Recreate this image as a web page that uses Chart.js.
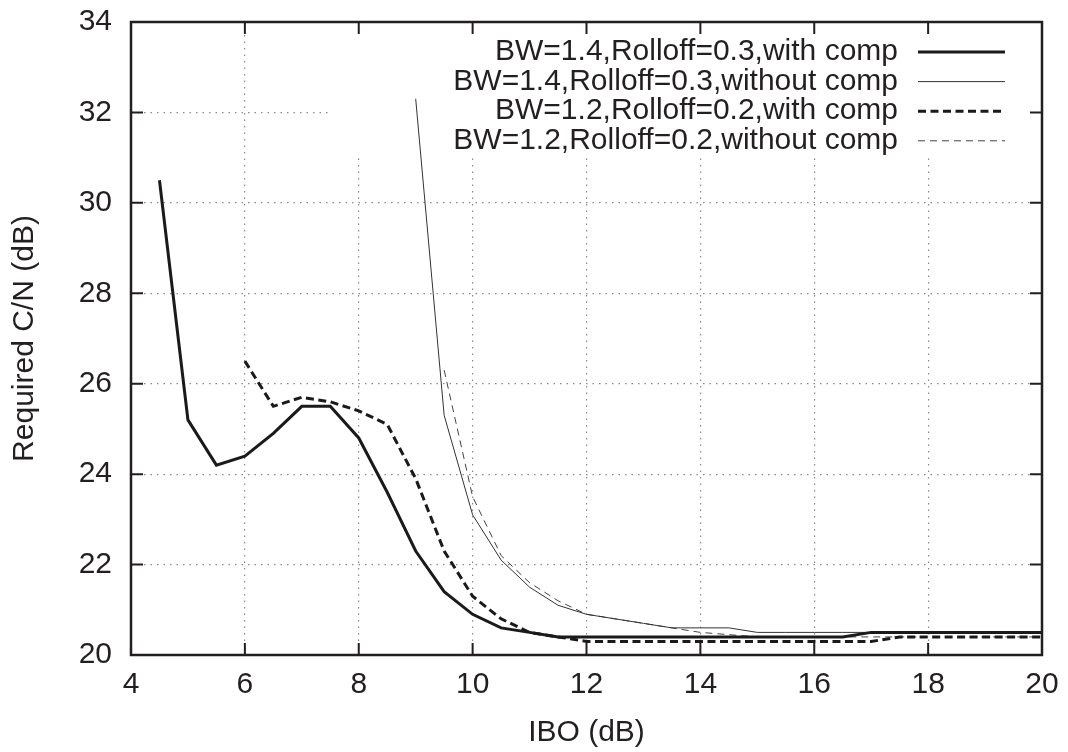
<!DOCTYPE html>
<html>
<head>
<meta charset="utf-8">
<script src="https://cdn.jsdelivr.net/npm/chart.js@4.4.1/dist/chart.umd.min.js"></script>
<style>
  html, body { margin: 0; padding: 0; background: #fff; }
  #wrap { width: 1068px; height: 752px; }
</style>
</head>
<body>
<div id="wrap"><canvas id="cnChart" width="1068" height="752"></canvas></div>
<script>
// IBO values (dB), shared by all series
const ibo = [4.5, 5, 5.5, 6, 6.5, 7, 7.5, 8, 8.5, 9, 9.5, 10, 10.5, 11, 11.5, 12,
  12.5, 13, 13.5, 14, 14.5, 15, 15.5, 16, 16.5, 17, 17.5, 18, 18.5, 19, 19.5, 20];

const bw14WithComp = [30.5, 25.2, 24.2, 24.4, 24.9, 25.5, 25.5, 24.8, 23.6, 22.3, 21.4, 20.9,
  20.6, 20.5, 20.4, 20.4, 20.4, 20.4, 20.4, 20.4, 20.4, 20.4, 20.4, 20.4, 20.4, 20.5,
  20.5, 20.5, 20.5, 20.5, 20.5, 20.5];
const bw14WithoutComp = [null, null, null, null, null, null, null, null, null, 32.3, 25.3, 23.1,
  22.1, 21.5, 21.1, 20.9, 20.8, 20.7, 20.6, 20.6, 20.6, 20.5, 20.5, 20.5, 20.5, 20.5,
  20.5, 20.5, 20.5, 20.5, 20.5, 20.5];
const bw12WithComp = [null, null, null, 26.5, 25.5, 25.7, 25.6, 25.4, 25.1, 23.9, 22.3, 21.3,
  20.8, 20.5, 20.4, 20.3, 20.3, 20.3, 20.3, 20.3, 20.3, 20.3, 20.3, 20.3, 20.3, 20.3,
  20.4, 20.4, 20.4, 20.4, 20.4, 20.4];
const bw12WithoutComp = [null, null, null, null, null, null, null, null, null, null, 26.3, 23.5,
  22.2, 21.6, 21.2, 20.9, 20.8, 20.7, 20.6, 20.5, 20.45, 20.4, 20.4, 20.4, 20.4, 20.4,
  20.4, 20.4, 20.4, 20.4, 20.4, 20.4];

const seriesLabels = [
  'BW=1.4,Rolloff=0.3,with comp',
  'BW=1.4,Rolloff=0.3,without comp',
  'BW=1.2,Rolloff=0.2,with comp',
  'BW=1.2,Rolloff=0.2,without comp'
];
const xTicks = [4, 6, 8, 10, 12, 14, 16, 18, 20];
const yTicks = [20, 22, 24, 26, 28, 30, 32, 34];

const FONT = 'Liberation Sans, Arial, Helvetica, sans-serif';
const INK = '#231f20';

function toPoints(values) {
  return ibo.map((x, i) => ({ x: x, y: values[i] }));
}

// gnuplot style frame, inward ticks on all sides, opaque key box
const gnuplotFrame = {
  id: 'gnuplotFrame',
  beforeDatasetsDraw(chart) {
    const { ctx, chartArea: a } = chart;
    ctx.save();
    ctx.fillStyle = '#fff';
    ctx.fillRect(a.right - 712, a.top, 712, 135);
    ctx.restore();
  },
  afterDatasetsDraw(chart) {
    const { ctx, chartArea: a, scales } = chart;
    ctx.save();
    // key
    ctx.font = '30px ' + FONT;
    ctx.fillStyle = INK;
    ctx.textAlign = 'right';
    ctx.textBaseline = 'middle';
    chart.data.datasets.forEach((ds, i) => {
      const y = a.top + 30 + i * 29.6;
      ctx.fillText(ds.label, a.right - 144, y);
      ctx.strokeStyle = ds.borderColor;
      ctx.lineWidth = ds.borderWidth;
      ctx.setLineDash(ds.borderDash || []);
      ctx.beginPath();
      ctx.moveTo(a.right - 124, y);
      ctx.lineTo(a.right - 37, y);
      ctx.stroke();
    });
    ctx.setLineDash([]);
    // ticks
    ctx.strokeStyle = INK;
    ctx.lineWidth = 2;
    const tl = 12;
    ctx.beginPath();
    scales.x.ticks.forEach(t => {
      const px = scales.x.getPixelForValue(t.value);
      ctx.moveTo(px, a.bottom); ctx.lineTo(px, a.bottom - tl);
      ctx.moveTo(px, a.top); ctx.lineTo(px, a.top + tl);
    });
    scales.y.ticks.forEach(t => {
      const py = scales.y.getPixelForValue(t.value);
      ctx.moveTo(a.left, py); ctx.lineTo(a.left + tl, py);
      ctx.moveTo(a.right, py); ctx.lineTo(a.right - tl, py);
    });
    ctx.stroke();
    // frame
    ctx.lineWidth = 2.5;
    ctx.strokeRect(a.left, a.top, a.right - a.left, a.bottom - a.top);
    ctx.restore();
  }
};

const ctx = document.getElementById('cnChart').getContext('2d');
new Chart(ctx, {
  type: 'line',
  data: {
    datasets: [
      {
        label: seriesLabels[0],
        data: toPoints(bw14WithComp),
        borderColor: '#1a1a1a',
        borderWidth: 3,
        pointRadius: 0
      },
      {
        label: seriesLabels[1],
        data: toPoints(bw14WithoutComp),
        borderColor: '#333',
        borderWidth: 1,
        pointRadius: 0
      },
      {
        label: seriesLabels[2],
        data: toPoints(bw12WithComp),
        borderColor: '#1a1a1a',
        borderWidth: 3,
        borderDash: [8, 4.5],
        pointRadius: 0
      },
      {
        label: seriesLabels[3],
        data: toPoints(bw12WithoutComp),
        borderColor: '#444',
        borderWidth: 1,
        borderDash: [7, 5],
        pointRadius: 0
      }
    ]
  },
  options: {
    responsive: false,
    animation: false,
    events: [],
    layout: { padding: { top: 22, right: 26, left: 0, bottom: 0 } },
    plugins: {
      legend: { display: false },
      tooltip: { enabled: false }
    },
    scales: {
      x: {
        type: 'linear',
        min: 4,
        max: 20,
        afterBuildTicks: scale => { scale.ticks = xTicks.map(v => ({ value: v })); },
        afterFit: scale => {
          scale.height = 97;
          scale.paddingLeft = 0;
          scale.paddingRight = 0;
        },
        ticks: {
          color: INK,
          padding: 12,
          font: { family: FONT, size: 30 },
          maxRotation: 0
        },
        grid: {
          color: '#8a8a8a',
          lineWidth: 1.2,
          drawTicks: false
        },
        border: { display: false, dash: [1.5, 5] },
        title: {
          display: true,
          text: 'IBO (dB)',
          color: INK,
          font: { family: FONT, size: 30 },
          padding: { top: 0, bottom: 1 }
        }
      },
      y: {
        type: 'linear',
        min: 20,
        max: 34,
        afterBuildTicks: scale => { scale.ticks = yTicks.map(v => ({ value: v })); },
        afterFit: scale => {
          scale.width = 131;
          scale.paddingTop = 0;
          scale.paddingBottom = 0;
        },
        ticks: {
          color: INK,
          padding: 19,
          font: { family: FONT, size: 30 }
        },
        grid: {
          color: '#8a8a8a',
          lineWidth: 1.2,
          drawTicks: false
        },
        border: { display: false, dash: [1.5, 5] },
        title: {
          display: true,
          text: 'Required C/N (dB)',
          color: INK,
          font: { family: FONT, size: 30 },
          padding: { top: 7, bottom: 0 }
        }
      }
    }
  },
  plugins: [gnuplotFrame]
});
</script>
</body>
</html>
